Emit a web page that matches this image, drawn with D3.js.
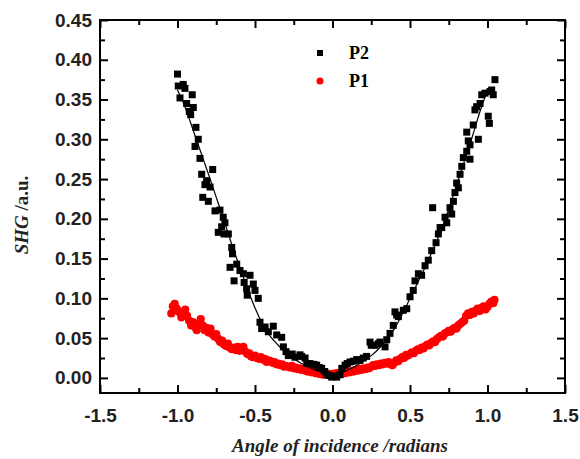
<!DOCTYPE html>
<html>
<meta charset="utf-8">
<style>
body { margin: 0; background: #fff; }
svg { font-family: "Liberation Serif", "Times New Roman", serif; font-weight: bold; }
.axis path { display: none; }
.axis line { stroke: #000; stroke-width: 2px; }
.axis text { font-size: 19px; font-weight: bold; fill: #222; }
.frame { fill: none; stroke: #000; stroke-width: 2px; }
</style>
<body>
<script src="https://d3js.org/d3.v7.min.js"></script>
<script>

var xTicks = [-1.5, -1.0, -0.5, 0.0, 0.5, 1.0, 1.5],
    yTicks = [0.00, 0.05, 0.10, 0.15, 0.20, 0.25, 0.30, 0.35, 0.40, 0.45];

// P2 (black squares)
var p2x = [-1.000,-0.995,-0.984,-0.963,-0.952,-0.941,-0.924,-0.915,-0.905,-0.898,-0.887,-0.881,-0.866,-0.855,-0.844,-0.837,-0.823,-0.812,-0.801,-0.790,-0.773,-0.758,-0.737,-0.726,-0.715,-0.705,-0.700,-0.694,-0.672,-0.661,-0.650,-0.645,-0.635,-0.618,-0.597,-0.575,-0.570,-0.554,-0.550,-0.532,-0.511,-0.500,-0.479,-0.468,-0.457,-0.435,-0.414,-0.382,-0.360,-0.328,-0.317,-0.300,-0.285,-0.260,-0.242,-0.210,-0.199,-0.177,-0.166,-0.145,-0.120,-0.102,-0.085,-0.070,-0.050,-0.037,-0.020,-0.005,0.010,0.027,0.048,0.060,0.081,0.095,0.113,0.135,0.156,0.177,0.199,0.220,0.242,0.250,0.274,0.296,0.306,0.339,0.350,0.371,0.392,0.403,0.414,0.425,0.457,0.479,0.500,0.521,0.532,0.554,0.575,0.597,0.618,0.640,0.646,0.668,0.683,0.694,0.705,0.726,0.737,0.758,0.769,0.780,0.790,0.801,0.812,0.823,0.834,0.844,0.866,0.866,0.876,0.887,0.887,0.908,0.919,0.930,0.941,0.952,0.963,0.984,1.005,1.012,1.016,1.027,1.037,1.048];
var p2y = [0.382,0.367,0.352,0.369,0.364,0.345,0.335,0.331,0.356,0.340,0.291,0.315,0.300,0.276,0.256,0.227,0.243,0.248,0.222,0.240,0.262,0.210,0.183,0.211,0.190,0.202,0.181,0.195,0.181,0.139,0.164,0.156,0.122,0.143,0.135,0.131,0.120,0.112,0.104,0.129,0.118,0.110,0.100,0.070,0.062,0.064,0.058,0.065,0.054,0.051,0.039,0.033,0.028,0.030,0.026,0.029,0.027,0.025,0.018,0.018,0.017,0.016,0.013,0.012,0.008,0.004,0.003,0.001,0.002,0.001,0.004,0.012,0.016,0.018,0.020,0.021,0.023,0.022,0.025,0.027,0.045,0.041,0.041,0.043,0.045,0.039,0.048,0.056,0.066,0.083,0.079,0.077,0.085,0.087,0.102,0.110,0.122,0.131,0.129,0.141,0.148,0.160,0.214,0.170,0.181,0.189,0.189,0.202,0.195,0.214,0.206,0.222,0.233,0.245,0.239,0.256,0.266,0.277,0.285,0.309,0.298,0.275,0.293,0.318,0.337,0.341,0.300,0.345,0.356,0.358,0.329,0.320,0.360,0.362,0.356,0.375];

// P1 (red circles)
var p1x = [-1.040,-1.030,-1.018,-1.005,-0.990,-0.975,-0.962,-0.950,-0.938,-0.925,-0.912,-0.900,-0.888,-0.876,-0.862,-0.850,-0.838,-0.825,-0.812,-0.800,-0.787,-0.775,-0.762,-0.750,-0.737,-0.725,-0.712,-0.700,-0.687,-0.675,-0.662,-0.650,-0.637,-0.625,-0.612,-0.600,-0.587,-0.575,-0.562,-0.550,-0.537,-0.525,-0.512,-0.500,-0.487,-0.475,-0.462,-0.450,-0.437,-0.425,-0.412,-0.400,-0.387,-0.375,-0.362,-0.350,-0.337,-0.325,-0.312,-0.300,-0.287,-0.275,-0.262,-0.250,-0.237,-0.225,-0.212,-0.200,-0.187,-0.175,-0.162,-0.150,-0.137,-0.125,-0.112,-0.100,-0.087,-0.075,-0.062,-0.050,-0.037,-0.025,-0.012,0.000,0.012,0.025,0.037,0.050,0.062,0.075,0.087,0.100,0.112,0.125,0.137,0.150,0.162,0.175,0.187,0.200,0.212,0.225,0.237,0.250,0.262,0.275,0.287,0.300,0.312,0.325,0.337,0.350,0.362,0.375,0.387,0.400,0.412,0.425,0.437,0.450,0.462,0.475,0.487,0.500,0.512,0.525,0.537,0.550,0.562,0.575,0.587,0.600,0.612,0.625,0.637,0.650,0.662,0.675,0.687,0.700,0.712,0.725,0.737,0.750,0.762,0.775,0.787,0.800,0.812,0.825,0.837,0.850,0.862,0.875,0.887,0.900,0.912,0.925,0.937,0.950,0.962,0.975,0.987,1.000,1.012,1.025,1.037,1.045];
var p1y = [0.081,0.090,0.093,0.087,0.083,0.076,0.082,0.086,0.078,0.072,0.066,0.070,0.064,0.060,0.068,0.074,0.066,0.060,0.063,0.057,0.062,0.055,0.052,0.055,0.049,0.045,0.047,0.042,0.040,0.043,0.038,0.036,0.038,0.035,0.039,0.034,0.037,0.039,0.033,0.030,0.031,0.027,0.026,0.028,0.025,0.024,0.026,0.023,0.024,0.020,0.022,0.021,0.019,0.020,0.017,0.018,0.016,0.017,0.014,0.015,0.014,0.013,0.015,0.012,0.013,0.011,0.012,0.010,0.011,0.009,0.008,0.009,0.007,0.008,0.006,0.007,0.005,0.006,0.004,0.005,0.004,0.005,0.004,0.005,0.004,0.006,0.005,0.006,0.005,0.007,0.006,0.008,0.007,0.009,0.008,0.010,0.009,0.011,0.010,0.012,0.011,0.013,0.012,0.014,0.016,0.015,0.017,0.016,0.018,0.017,0.019,0.018,0.020,0.017,0.016,0.019,0.022,0.021,0.024,0.026,0.025,0.029,0.028,0.030,0.032,0.031,0.034,0.036,0.035,0.038,0.037,0.040,0.042,0.041,0.044,0.046,0.045,0.049,0.051,0.053,0.052,0.056,0.057,0.059,0.058,0.061,0.063,0.062,0.066,0.068,0.070,0.072,0.078,0.081,0.079,0.083,0.081,0.085,0.087,0.084,0.088,0.090,0.086,0.089,0.093,0.096,0.094,0.098];

// fitted curves
var fit2x = [-1.00,-0.95,-0.90,-0.85,-0.80,-0.75,-0.70,-0.65,-0.60,-0.55,-0.50,-0.45,-0.40,-0.35,-0.30,-0.25,-0.20,-0.15,-0.10,-0.05,0.00,0.05,0.10,0.15,0.20,0.25,0.30,0.35,0.40,0.45,0.50,0.55,0.60,0.65,0.70,0.75,0.80,0.85,0.90,0.95,1.00];
var fit2y = [0.362,0.340,0.312,0.284,0.256,0.227,0.198,0.168,0.140,0.113,0.088,0.067,0.052,0.041,0.031,0.024,0.018,0.013,0.009,0.006,0.005,0.007,0.010,0.015,0.021,0.028,0.037,0.048,0.062,0.080,0.100,0.120,0.140,0.162,0.185,0.212,0.242,0.272,0.302,0.334,0.362];
var fit1x = [-1.05,-0.90,-0.80,-0.70,-0.60,-0.50,-0.40,-0.30,-0.20,-0.10,0.00,0.10,0.20,0.30,0.40,0.50,0.60,0.70,0.80,0.90,1.05];
var fit1y = [0.085,0.069,0.058,0.046,0.036,0.027,0.020,0.014,0.009,0.006,0.005,0.007,0.010,0.015,0.021,0.029,0.039,0.051,0.064,0.078,0.097];

var width = 580, height = 459,
    margin = {top: 20, right: 15, bottom: 66, left: 100},
    w = width - margin.left - margin.right,
    h = height - margin.top - margin.bottom;

var svg = d3.select("body").append("svg")
    .attr("width", width)
    .attr("height", height);

var g = svg.append("g")
    .attr("transform", "translate(" + margin.left + "," + margin.top + ")");

var x = d3.scaleLinear().domain([-1.5, 1.5]).range([0, w]);
var y = d3.scaleLinear().domain([-0.019, 0.45]).range([h, 0]);

var xMinor = d3.range(-1.25, 1.5, 0.5),
    yMinor = d3.range(0.025, 0.45, 0.05);

// plain hyphen for negatives, like the original
var fmtX = function(d) { return d.toFixed(1); },
    fmtY = function(d) { return d.toFixed(2); };

// major + minor ticks, all pointing inward
g.append("g").attr("class", "axis")
    .attr("transform", "translate(0," + h + ")")
    .call(d3.axisBottom(x).tickValues(xTicks).tickSize(-8).tickPadding(16).tickFormat(fmtX));
g.append("g").attr("class", "axis")
    .attr("transform", "translate(0," + h + ")")
    .call(d3.axisBottom(x).tickValues(xMinor).tickSize(-5).tickFormat(""));
g.append("g").attr("class", "axis")
    .call(d3.axisTop(x).tickValues(xTicks).tickSize(-8).tickFormat(""));
g.append("g").attr("class", "axis")
    .call(d3.axisTop(x).tickValues(xMinor).tickSize(-5).tickFormat(""));

g.append("g").attr("class", "axis")
    .call(d3.axisLeft(y).tickValues(yTicks).tickSize(-8).tickPadding(8).tickFormat(fmtY));
g.append("g").attr("class", "axis")
    .call(d3.axisLeft(y).tickValues(yMinor).tickSize(-5).tickFormat(""));
g.append("g").attr("class", "axis")
    .attr("transform", "translate(" + w + ",0)")
    .call(d3.axisRight(y).tickValues(yTicks).tickSize(-8).tickFormat(""));
g.append("g").attr("class", "axis")
    .attr("transform", "translate(" + w + ",0)")
    .call(d3.axisRight(y).tickValues(yMinor).tickSize(-5).tickFormat(""));

var line = d3.line()
    .x(function(d) { return x(d[0]); })
    .y(function(d) { return y(d[1]); })
    .curve(d3.curveCatmullRom);

// P1 red points and fit
g.selectAll(".p1").data(d3.zip(p1x, p1y)).enter().append("circle")
    .attr("class", "p1")
    .attr("cx", function(d) { return x(d[0]); })
    .attr("cy", function(d) { return y(d[1]); })
    .attr("r", 4.1)
    .attr("fill", "#f00");
g.append("path")
    .datum(d3.zip(fit1x, fit1y))
    .attr("d", line)
    .attr("fill", "none")
    .attr("stroke", "#e00")
    .attr("stroke-width", 1.2);

// P2 black squares and fit
g.selectAll(".p2").data(d3.zip(p2x, p2y)).enter().append("rect")
    .attr("class", "p2")
    .attr("x", function(d) { return x(d[0]) - 3.5; })
    .attr("y", function(d) { return y(d[1]) - 3.5; })
    .attr("width", 7)
    .attr("height", 7)
    .attr("fill", "#000");
g.append("path")
    .datum(d3.zip(fit2x, fit2y))
    .attr("d", line)
    .attr("fill", "none")
    .attr("stroke", "#000")
    .attr("stroke-width", 1.2);

g.append("rect")
    .attr("class", "frame")
    .attr("width", w)
    .attr("height", h);

// legend
var legend = svg.append("g").attr("transform", "translate(320,53)");
legend.append("rect").attr("x", -3).attr("y", -3).attr("width", 6).attr("height", 6).attr("fill", "#000");
legend.append("text").attr("x", 29).attr("y", 6).attr("font-size", 18).text("P2");
legend.append("circle").attr("cy", 28).attr("r", 3.5).attr("fill", "#f00");
legend.append("text").attr("x", 29).attr("y", 34).attr("font-size", 18).text("P1");

// axis titles
svg.append("text")
    .attr("x", 340)
    .attr("y", 452)
    .attr("text-anchor", "middle")
    .attr("font-size", 19)
    .attr("font-style", "italic")
    .attr("fill", "#222")
    .text("Angle of incidence /radians");

var yt = svg.append("text")
    .attr("transform", "translate(28,215) rotate(-90)")
    .attr("text-anchor", "middle")
    .attr("font-size", 19)
    .attr("fill", "#222");
yt.append("tspan").attr("font-style", "italic").text("SHG");
yt.append("tspan").text(" /a.u.");

</script>
</body>
</html>
